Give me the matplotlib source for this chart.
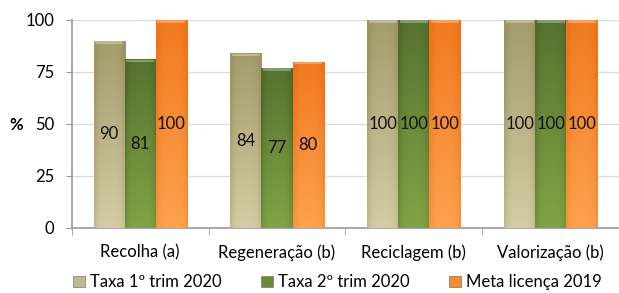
import numpy as np
import matplotlib
matplotlib.use("Agg")
import matplotlib.pyplot as plt
from matplotlib.colors import LinearSegmentedColormap
from matplotlib.patches import Patch

plt.rcParams['font.family'] = ['Lato', 'DejaVu Sans']

categorias = ["Recolha (a)", "Regeneração (b)", "Reciclagem (b)", "Valorização (b)"]
taxa_1trim = [90, 84, 100, 100]
taxa_2trim = [81, 77, 100, 100]
meta_2019 = [100, 80, 100, 100]
series = ["Taxa 1º trim 2020", "Taxa 2º trim 2020", "Meta licença 2019"]

# cores (topo, base) de cada série
cores = [("#9c9462", "#d4cca4"), ("#4f6a2c", "#80a444"), ("#ef7318", "#fda24e")]
cores_legenda = ["#c2b98a", "#6a8a38", "#f78a30"]

fig = plt.figure(figsize=(6.19, 2.93), dpi=100)
ax = fig.add_axes([0.116, 0.222, 0.884, 0.71])

x = np.arange(len(categorias))
w = 0.227
valores = [taxa_1trim, taxa_2trim, meta_2019]
fs = 12

for i, vals in enumerate(valores):
    barras = ax.bar(x + (i - 1) * w, vals, w, color="none", edgecolor="none", zorder=3)
    cmap = LinearSegmentedColormap.from_list("c%d" % i, [cores[i][1], cores[i][0]])
    for b, v in zip(barras, vals):
        bx, by = b.get_x(), b.get_y()
        bw, bh = b.get_width(), b.get_height()
        # gradiente vertical com escurecimento nas bordas
        vert = np.linspace(0, 1, 64)[:, None]
        horiz = np.abs(np.linspace(-1, 1, 32))[None, :]
        grad = np.clip(vert * 0.85 + horiz ** 4 * 0.35, 0, 1)
        im = ax.imshow(grad, cmap=cmap, vmin=0, vmax=1, origin="lower",
                       extent=[bx, bx + bw, by, by + bh], aspect="auto", zorder=3)
        im.set_clip_path(b)
        # tampa clara no topo
        ax.bar(bx + bw / 2, 1.2, bw * 0.9, bottom=bh - 1.4, color="white",
               alpha=0.3, zorder=4, edgecolor="none")
        ax.text(bx + bw / 2, bh / 2, str(v), ha="center", va="center",
                fontsize=fs, color="#111111", zorder=5)

ax.set_xlim(-0.5, 3.49)
ax.set_ylim(0, 100)
ax.set_yticks([0, 25, 50, 75, 100])
ax.set_xticks(x)
ax.set_xticklabels(categorias)
ax.set_xticks(np.arange(-0.5, 3.6, 1), minor=True)
ax.tick_params(axis="x", which="major", length=0, pad=12, labelsize=fs)
ax.tick_params(axis="x", which="minor", length=5, color="#999999", direction="out")
ax.tick_params(axis="y", length=4.5, color="#999999", labelsize=fs, pad=8)
ax.grid(axis="y", color="#dddddd", linewidth=1, zorder=0)
ax.set_axisbelow(True)
for s in ["top", "right"]:
    ax.spines[s].set_visible(False)
ax.spines["left"].set_color("#999999")
ax.spines["bottom"].set_color("#999999")
ax.spines["left"].set_linewidth(1.2)
ax.spines["bottom"].set_linewidth(1.2)

fig.text(0.026, 0.575, "%", fontsize=fs, fontweight="bold", ha="center", va="center")

handles = [Patch(facecolor=c, edgecolor="#777777", linewidth=0.5) for c in cores_legenda]
fig.legend(handles, series, loc="center", bbox_to_anchor=(0.545, 0.036), ncol=3,
           frameon=False, fontsize=fs, handlelength=0.7, handleheight=0.7,
           handletextpad=0.3, columnspacing=2.4, borderpad=0)

fig.savefig("out.png", dpi=100)
